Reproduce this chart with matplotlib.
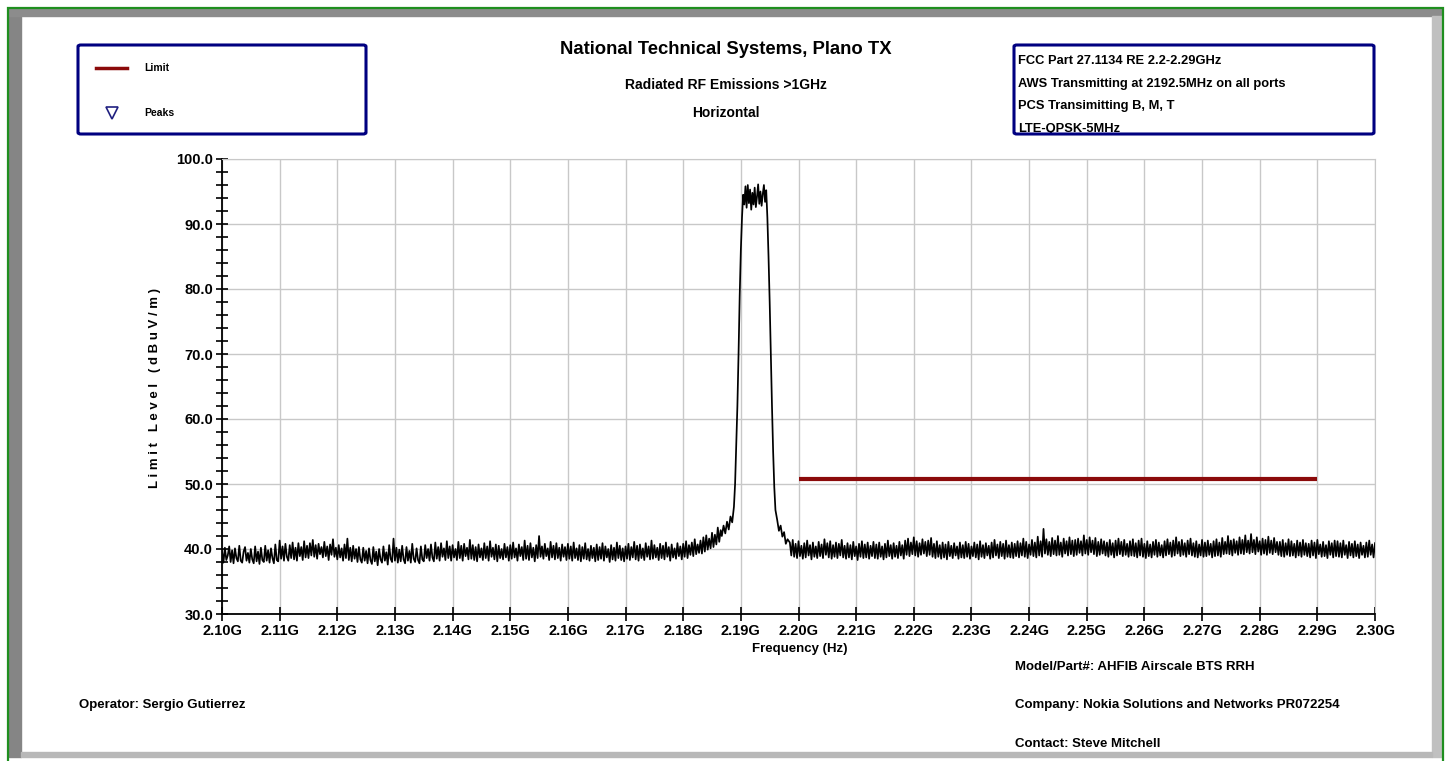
import numpy as np
import matplotlib
matplotlib.use("Agg")
import matplotlib.pyplot as plt
from matplotlib.patches import Rectangle, FancyBboxPatch
from matplotlib.lines import Line2D

plt.rcParams['font.family'] = ['Liberation Sans', 'DejaVu Sans']

# ---------------- data ----------------
title = "National Technical Systems, Plano TX"
subtitle1 = "Radiated RF Emissions >1GHz"
subtitle2 = "Horizontal"
info_lines = ["FCC Part 27.1134 RE 2.2-2.29GHz",
              "AWS Transmitting at 2192.5MHz on all ports",
              "PCS Transimitting B, M, T",
              "LTE-QPSK-5MHz"]
legend_labels = ["Limit", "Peaks"]
x_ticks = [2.10, 2.11, 2.12, 2.13, 2.14, 2.15, 2.16, 2.17, 2.18, 2.19, 2.20,
           2.21, 2.22, 2.23, 2.24, 2.25, 2.26, 2.27, 2.28, 2.29, 2.30]
y_ticks = [30.0, 40.0, 50.0, 60.0, 70.0, 80.0, 90.0, 100.0]

limit_freq = [2.20, 2.29]
limit_level = [50.8, 50.8]

# trace below the carrier (2.1000 .. 2.1865 GHz, 0.25 MHz steps)
noise_left = [
    39.7, 37.9, 40.2, 38.3, 39.0, 40.4, 38.0, 39.8, 37.8, 40.1, 38.6, 38.1, 40.5, 38.2, 37.9, 39.6, 40.3, 38.2, 39.4, 37.9,
    40.0, 38.4, 37.8, 40.4, 38.1, 39.6, 37.7, 40.2, 38.3, 38.0, 40.5, 38.2, 39.8, 37.9, 40.1, 38.6, 37.8, 40.7, 38.3, 38.1,
    41.3, 38.5, 40.4, 38.2, 40.8, 38.8, 38.2, 40.6, 38.6, 41.0, 38.4, 40.2, 38.2, 40.9, 38.9, 40.3, 38.3, 41.2, 38.7, 40.5,
    38.6, 40.9, 39.0, 41.4, 38.8, 40.6, 38.5, 40.8, 39.2, 40.3, 38.7, 41.1, 38.9, 40.4, 38.3, 40.7, 39.1, 41.5, 38.8, 40.2,
    38.4, 40.6, 38.7, 40.1, 38.2, 40.7, 38.6, 41.6, 38.3, 40.2, 38.1, 40.5, 38.5, 40.0, 38.0, 40.3, 38.4, 37.9, 40.2, 38.2,
    39.7, 37.8, 40.1, 38.3, 37.7, 40.3, 38.1, 39.6, 37.5, 40.0, 38.4, 37.9, 40.4, 38.2, 39.5, 37.6, 40.6, 38.5, 38.0, 41.6,
    38.2, 40.2, 37.9, 39.9, 38.1, 40.5, 38.4, 37.8, 40.3, 38.2, 39.7, 37.9, 40.8, 38.5, 38.0, 40.1, 38.3, 37.8, 40.4, 38.4,
    38.1, 40.6, 38.6, 40.0, 38.2, 40.7, 38.7, 38.1, 41.0, 38.5, 40.3, 38.2, 40.9, 38.8, 40.1, 38.3, 41.2, 38.6, 40.4, 38.2,
    40.6, 38.7, 40.0, 38.3, 41.1, 38.6, 40.5, 38.2, 40.8, 38.9, 40.2, 38.4, 41.4, 38.5, 40.6, 38.3, 40.3, 38.1, 40.7, 38.7,
    40.1, 38.3, 40.9, 38.6, 40.4, 38.2, 41.2, 38.8, 40.2, 38.4, 40.7, 38.1, 40.5, 38.6, 40.0, 38.4, 40.8, 38.7, 40.3, 38.2,
    40.6, 38.5, 41.0, 38.7, 40.1, 38.2, 40.7, 38.9, 40.3, 38.3, 41.3, 38.5, 40.5, 38.3, 40.9, 38.7, 40.2, 38.1, 40.6, 38.6,
    42.0, 38.8, 40.4, 38.5, 40.8, 38.9, 40.1, 38.3, 41.1, 38.7, 40.5, 38.4, 40.9, 38.6, 40.2, 38.2, 40.7, 38.8, 40.3, 38.3,
    40.8, 38.5, 40.4, 38.2, 41.0, 38.6, 40.1, 38.3, 40.6, 38.1, 40.3, 38.5, 40.9, 38.4, 40.0, 38.2, 40.5, 38.6, 40.2, 38.1,
    40.7, 38.3, 40.3, 38.5, 40.9, 38.2, 40.4, 38.7, 40.0, 38.0, 40.6, 38.4, 40.2, 38.2, 41.0, 38.6, 40.5, 38.3, 40.1, 38.1,
    40.4, 38.5, 40.8, 38.3, 40.3, 38.7, 41.1, 38.4, 40.5, 38.2, 40.7, 38.6, 40.1, 38.3, 40.9, 38.8, 40.4, 38.4, 41.3, 38.5,
    40.6, 38.7, 40.2, 38.3, 40.8, 38.6, 40.5, 38.4, 41.0, 38.8, 40.3, 38.2, 40.7, 38.7, 40.1, 38.5, 40.9, 38.9, 40.4, 38.4,
    40.8, 38.8, 41.2, 38.6, 40.6, 39.1, 41.0, 38.9, 41.5, 39.2, 40.7, 39.4, 41.3, 39.3, 41.8, 39.6, 42.1, 39.9, 41.6, 40.1,
    42.5, 40.3, 42.2, 40.7, 43.3, 41.1, 42.9,
]

# carrier region (explicit frequencies)
peak_freq = [2.1867, 2.1870, 2.1873, 2.1876, 2.1879, 2.1882, 2.1885, 2.1888,
             2.1890, 2.1892, 2.1894, 2.1896, 2.1898, 2.1900, 2.1902, 2.1904,
             2.1906, 2.1908, 2.1910, 2.1912, 2.1914, 2.1916, 2.1918, 2.1920,
             2.1922, 2.1924, 2.1926, 2.1928, 2.1930, 2.1932, 2.1934, 2.1936,
             2.1938, 2.1940, 2.1942, 2.1944, 2.1946, 2.1948, 2.1950, 2.1952,
             2.1954, 2.1956, 2.1958, 2.1960, 2.1963, 2.1966, 2.1969, 2.1972,
             2.1975, 2.1978, 2.1981]
peak_level = [42.0, 43.6, 42.4, 44.2, 43.0, 45.0, 44.1, 46.5,
              50.0, 56.0, 62.0, 70.0, 79.0, 86.0, 91.0, 94.5,
              93.0, 95.8, 92.5, 96.0, 93.2, 95.3, 92.2, 94.8,
              93.0, 95.6, 92.6, 94.2, 96.1, 93.1, 95.0, 92.8,
              94.6, 96.0, 93.4, 95.2, 91.0, 85.0, 78.0, 70.0,
              62.0, 55.0, 49.5, 46.0, 44.5, 42.8, 43.6, 41.9,
              42.6, 40.8, 41.5]

# trace above the carrier (2.1985 .. 2.3000 GHz, 0.25 MHz steps)
noise_right = [
    41.0, 39.0, 41.4, 38.8, 40.8, 38.6, 41.2, 38.9, 40.5, 38.5, 40.9, 38.7, 41.3, 39.0, 40.6, 38.4, 41.0, 38.8, 40.4, 38.6,
    41.1, 38.9, 40.7, 38.6, 41.5, 39.1, 40.9, 38.7, 41.2, 38.5, 40.6, 38.8, 41.0, 38.6, 40.8, 39.0, 41.4, 38.7, 40.5, 38.5,
    40.9, 38.7, 40.6, 38.4, 41.1, 38.9, 40.4, 38.3, 40.8, 38.8, 41.2, 38.6, 40.7, 38.7, 41.0, 38.5, 40.5, 38.9, 41.1, 38.6,
    40.7, 38.5, 41.0, 38.8, 40.4, 38.4, 40.8, 38.7, 41.3, 38.9, 40.6, 38.5, 40.9, 38.8, 40.5, 38.6, 41.1, 39.0, 40.6, 38.5,
    41.3, 39.1, 41.6, 38.9, 41.0, 39.2, 41.8, 39.0, 41.2, 38.8, 40.9, 39.1, 41.5, 39.3, 41.1, 38.9, 41.3, 39.1, 41.7, 38.8,
    40.8, 38.6, 41.2, 38.8, 40.6, 38.5, 41.0, 38.7, 40.7, 38.4, 41.1, 38.9, 40.5, 38.6, 40.9, 39.0, 40.4, 38.5, 41.0, 38.7,
    40.6, 38.6, 41.1, 38.8, 40.8, 38.5, 40.4, 38.9, 41.0, 38.7, 40.7, 38.4, 41.2, 38.8, 40.6, 38.6, 40.9, 39.0, 40.5, 38.5,
    41.0, 38.7, 41.4, 39.0, 40.7, 38.6, 41.1, 38.9, 40.8, 38.5, 41.3, 38.8, 40.6, 38.7, 41.0, 38.6, 40.8, 38.9, 41.2, 38.7,
    40.9, 39.0, 41.6, 38.8, 41.1, 38.6, 40.7, 39.1, 41.4, 38.9, 41.0, 38.7, 41.9, 39.0, 41.2, 38.8, 43.1, 39.3, 41.5, 39.1,
    41.1, 38.9, 41.7, 39.2, 41.3, 39.0, 42.0, 39.1, 41.0, 38.8, 41.6, 39.3, 41.2, 39.0, 41.8, 39.2, 41.3, 38.9, 41.4, 39.1,
    41.6, 39.4, 41.2, 39.0, 42.1, 39.3, 41.4, 39.1, 41.8, 39.5, 41.3, 39.2, 41.7, 38.9, 41.1, 39.1, 41.5, 39.3, 41.2, 39.0,
    41.0, 38.8, 41.4, 39.1, 40.9, 38.7, 41.3, 39.0, 41.6, 39.2, 41.1, 38.9, 41.4, 39.1, 40.8, 38.8, 41.2, 39.0, 41.5, 38.9,
    40.9, 38.7, 41.3, 39.0, 41.6, 38.8, 40.8, 38.6, 41.2, 38.9, 40.7, 38.7, 41.1, 39.1, 41.4, 38.8, 41.0, 39.0, 40.6, 38.7,
    41.2, 39.0, 41.5, 39.2, 41.0, 38.8, 41.3, 39.0, 41.8, 39.3, 41.1, 38.9, 41.4, 39.1, 40.9, 38.8, 41.3, 39.2, 41.6, 39.0,
    40.9, 38.8, 41.2, 38.7, 40.7, 39.0, 41.4, 38.8, 41.0, 38.9, 41.3, 39.1, 40.8, 38.7, 41.2, 38.9, 41.5, 39.0, 41.0, 38.8,
    41.7, 39.2, 41.1, 39.3, 42.0, 39.2, 41.3, 39.0, 41.5, 39.4, 41.2, 39.1, 41.8, 39.3, 41.4, 39.2, 42.1, 39.5, 41.3, 39.3,
    42.3, 39.5, 41.4, 39.2, 41.8, 39.6, 41.2, 39.1, 41.6, 39.3, 41.4, 39.1, 41.9, 39.4, 41.3, 39.2, 41.7, 39.5, 41.1, 39.1,
    41.1, 38.9, 41.4, 38.8, 40.9, 39.1, 41.5, 38.9, 41.2, 39.0, 40.8, 38.7, 41.3, 39.0, 41.0, 38.8, 41.4, 39.1, 40.9, 38.9,
    40.8, 38.7, 41.3, 39.0, 41.0, 38.6, 41.4, 39.2, 40.7, 38.8, 41.1, 38.9, 40.6, 38.6, 41.2, 39.1, 40.9, 38.7, 41.3, 38.9,
    41.2, 38.8, 40.9, 38.7, 41.3, 39.1, 40.6, 38.6, 41.1, 39.0, 40.8, 38.7, 41.2, 38.9, 40.7, 38.6, 41.0, 39.1, 40.5, 38.7,
    41.0, 38.8, 41.3, 39.1, 40.7, 38.7, 40.9,
]

bottom_left = "Operator: Sergio Gutierrez"
bottom_right = ["Model/Part#: AHFIB Airscale BTS RRH",
                "Company: Nokia Solutions and Networks PR072254",
                "Contact: Steve Mitchell"]

# ---------------- figure ----------------
W, H = 1450, 761
fig = plt.figure(figsize=(W / 100, H / 100), dpi=100)
fig.patch.set_facecolor('white')

def fx(px):
    return px / W

def fy(py):
    return 1 - py / H

# frame (bevel + green border)
frame = [
    Rectangle((fx(9), fy(757)), fx(12) - fx(0), fy(9) - fy(757), color='#858585'),
    Rectangle((fx(9), fy(16)), fx(1442) - fx(9), fy(9) - fy(16), color='#8c8c8c'),
    Rectangle((fx(1432), fy(757)), fx(10) - fx(0), fy(16) - fy(757), color='#c0c0c0'),
    Rectangle((fx(21), fy(757)), fx(1432) - fx(21), fy(752) - fy(757), color='#b8b8b8'),
]
for r in frame:
    r.set_transform(fig.transFigure)
    fig.add_artist(r)
border = Rectangle((fx(8), fy(770)), fx(1443) - fx(8), fy(8) - fy(770),
                   fill=False, edgecolor='#1f8f1f', linewidth=1.6,
                   transform=fig.transFigure)
fig.add_artist(border)

# axes
ax = fig.add_axes([fx(222), fy(614), fx(1375) - fx(222), fy(159) - fy(614)])
freq_left = np.linspace(2.1000, 2.1865, len(noise_left))
freq_right = np.linspace(2.1985, 2.3000, len(noise_right))
freq = np.concatenate([freq_left, peak_freq, freq_right])
level = np.concatenate([noise_left, peak_level, noise_right])
ax.plot(freq, level, color='black', linewidth=1.25, zorder=3)
ax.plot(limit_freq, limit_level, color='#8b0a0a', linewidth=3.0,
        solid_capstyle='butt', zorder=4)

ax.set_xlim(2.10, 2.30)
ax.set_ylim(30, 100)
ax.set_xticks(x_ticks)
ax.set_xticklabels([f"{v:.2f}G" for v in x_ticks], fontweight='bold', fontsize=10.5)
ax.set_yticks(y_ticks)
ax.set_yticklabels([f"{v:.1f}" for v in y_ticks], fontweight='bold', fontsize=10.5)
ax.set_yticks(np.arange(30, 101, 2), minor=True)
ax.grid(True, which='major', color='#c8c8c8', linewidth=1.0, zorder=0)
ax.tick_params(axis='y', which='both', direction='inout', length=9, width=1.2, pad=2)
ax.tick_params(axis='x', which='major', direction='inout', length=10, width=1.2, pad=2)
for s in ['top', 'right']:
    ax.spines[s].set_color('#c8c8c8')
for s in ['left', 'bottom']:
    ax.spines[s].set_linewidth(1.3)
ax.set_axisbelow(True)

# titles
fig.text(fx(726), fy(49), title, ha='center', va='center', fontsize=13.3, fontweight='bold')
fig.text(fx(726), fy(85), subtitle1, ha='center', va='center', fontsize=10, fontweight='bold')
fig.text(fx(726), fy(113), subtitle2, ha='center', va='center', fontsize=10, fontweight='bold')

# axis labels
ylab = "   ".join(" ".join(w) for w in "Limit Level (dBuV/m)".split(" "))
fig.text(fx(155), fy(388), ylab, rotation=90, ha='center', va='center',
         fontsize=9.5, fontweight='bold')
fig.text(fx(800), fy(649), "Frequency (Hz)", ha='center', va='center',
         fontsize=9.5, fontweight='bold')

# legend box
lbox = FancyBboxPatch((fx(78), fy(134)), fx(366) - fx(78), fy(45) - fy(134),
                      boxstyle='round,pad=0,rounding_size=0.002',
                      fill=False, edgecolor='#000080', linewidth=2.2,
                      transform=fig.transFigure, zorder=5)
fig.add_artist(lbox)
fig.add_artist(Line2D([fx(96), fx(127)], [fy(68), fy(68)], color='#8b0a0a',
                      linewidth=2.5, transform=fig.transFigure))
fig.add_artist(Line2D([fx(112)], [fy(113)], marker='v', markersize=8,
                      markerfacecolor='none', markeredgecolor='#202080',
                      markeredgewidth=1.2, linestyle='none', transform=fig.transFigure))
fig.text(fx(144), fy(68), legend_labels[0], ha='left', va='center', fontsize=7.5, fontweight='bold')
fig.text(fx(144), fy(113), legend_labels[1], ha='left', va='center', fontsize=7.5, fontweight='bold')

# info box
ibox = FancyBboxPatch((fx(1014), fy(134)), fx(1374) - fx(1014), fy(45) - fy(134),
                      boxstyle='round,pad=0,rounding_size=0.002',
                      fill=False, edgecolor='#000080', linewidth=2.2,
                      transform=fig.transFigure, zorder=5)
fig.add_artist(ibox)
for t, yy in zip(info_lines, [61, 84, 106, 129]):
    fig.text(fx(1018), fy(yy), t, ha='left', va='center', fontsize=9.3,
             fontweight='bold', zorder=4)

# bottom texts
fig.text(fx(79), fy(705), bottom_left, ha='left', va='center', fontsize=9.5,
         fontweight='bold')
for t, yy in zip(bottom_right, [667, 705, 744]):
    fig.text(fx(1015), fy(yy), t, ha='left', va='center', fontsize=9.5,
             fontweight='bold')

fig.savefig("out.png", dpi=100, facecolor='white')
